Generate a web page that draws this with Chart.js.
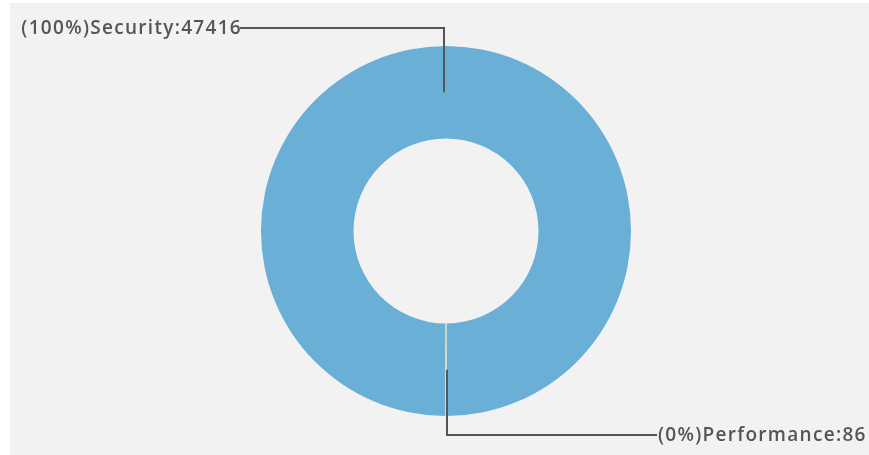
<!DOCTYPE html>
<html>
<head>
<meta charset="utf-8">
<script src="https://cdn.jsdelivr.net/npm/chart.js@4/dist/chart.umd.min.js"></script>
<style>
  html, body { margin: 0; padding: 0; background: #ffffff; }
  #wrap { position: absolute; left: 10px; top: 3px; width: 859px; height: 452px; background: #f2f2f2; }
  canvas { display: block; }
</style>
</head>
<body>
<div id="wrap"><canvas id="c" width="859" height="452"></canvas></div>
<script>
const categories = ["Security", "Performance"];
const values = [47416, 86];
const colors = ["#6aafd6", "#d4dcae"];

const total = values.reduce((a, b) => a + b, 0);
const perfAngle = values[1] / total * 360;

const leaderPlugin = {
  id: 'leaders',
  afterDatasetsDraw(chart) {
    const ctx = chart.ctx;
    const meta = chart.getDatasetMeta(0);
    ctx.save();
    ctx.font = '600 19px "Open Sans", "DejaVu Sans", sans-serif';
    ctx.letterSpacing = '1.3px';
    ctx.textBaseline = 'middle';
    meta.data.forEach((arc, i) => {
      const p = arc.getProps(['x', 'y', 'startAngle', 'endAngle', 'innerRadius', 'outerRadius'], true);
      const mid = (p.startAngle + p.endAngle) / 2;
      const r = (p.innerRadius + p.outerRadius) / 2;
      const sx = p.x + Math.cos(mid) * r;
      const sy = p.y + Math.sin(mid) * r;
      const up = Math.sin(mid) < 0;
      const ey = up ? p.y - p.outerRadius - 18 : p.y + p.outerRadius + 19;
      const ex = up ? p.x - 206 : p.x + 211;
      const lx = Math.round(sx) + (up ? -2 : 1);
      ctx.strokeStyle = '#555555';
      ctx.lineWidth = 2;
      ctx.beginPath();
      ctx.moveTo(lx, sy);
      ctx.lineTo(lx, ey);
      ctx.lineTo(ex, ey);
      ctx.stroke();
      const pct = Math.round(values[i] / total * 100);
      const label = '(' + pct + '%)' + categories[i] + ':' + values[i];
      ctx.fillStyle = '#555555';
      ctx.textAlign = up ? 'right' : 'left';
      ctx.fillText(label, up ? ex + 2 : ex + 1, ey + 1);
    });
    ctx.restore();
  }
};

new Chart(document.getElementById('c'), {
  type: 'doughnut',
  data: {
    labels: categories,
    datasets: [{
      data: values,
      backgroundColor: colors,
      borderWidth: 0
    }]
  },
  options: {
    responsive: false,
    animation: false,
    cutout: '50%',
    rotation: 180 + perfAngle / 2,
    layout: { padding: { left: 63, right: 50, top: 43, bottom: 39 } },
    plugins: { legend: { display: false }, tooltip: { enabled: false } }
  },
  plugins: [leaderPlugin]
});
</script>
</body>
</html>
